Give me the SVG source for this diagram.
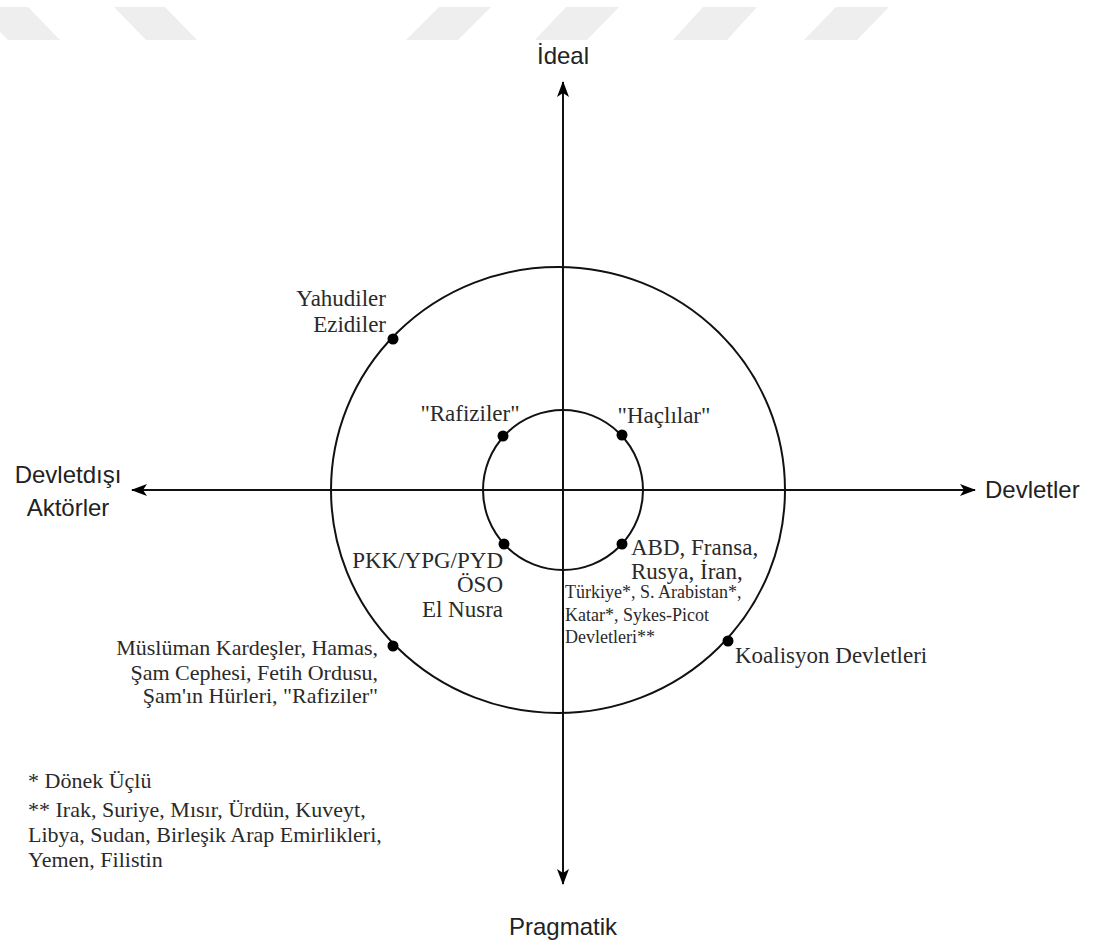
<svg xmlns="http://www.w3.org/2000/svg" width="1097" height="946" viewBox="0 0 1097 946">
<defs>
<style>
.wm{fill:#eeeeee}
.ax{stroke:#111;stroke-width:2;fill:none}
.ring{stroke:#111;stroke-width:2;fill:none}
.dot{fill:#000}
.sans{font-family:"Liberation Sans",Arial,sans-serif;font-size:24px;fill:#222}
.ser{font-family:"Liberation Serif","Times New Roman",serif;font-size:23px;fill:#2a2a2a}
.sm{font-size:18px}
.md{font-size:22px}
</style>
<marker id="ah" viewBox="0 0 16 12" refX="15" refY="6" markerWidth="16" markerHeight="12" markerUnits="userSpaceOnUse" orient="auto">
<path d="M0,0 L16,6 L0,12 L4,6 Z" fill="#000"/>
</marker>
</defs>
<rect width="1097" height="946" fill="#fff"/>
<g id="watermark">
<polygon class="wm" points="-24,7 28,7 60,40 8,40"/>
<polygon class="wm" points="114,7 165,7 197,40 146,40"/>
<polygon class="wm" points="439,7 491,7 458,40 406,40"/>
<polygon class="wm" points="566,7 619,7 587,40 535,40"/>
<polygon class="wm" points="703,7 757,7 727,40 673,40"/>
<polygon class="wm" points="836,7 889,7 857,40 804,40"/>
</g>
<g id="connectors">
<line class="ax" x1="563" y1="490" x2="563" y2="82" marker-end="url(#ah)"/>
<line class="ax" x1="563" y1="490" x2="563" y2="884" marker-end="url(#ah)"/>
<line class="ax" x1="563" y1="490" x2="132" y2="490" marker-end="url(#ah)"/>
<line class="ax" x1="563" y1="490" x2="975" y2="490" marker-end="url(#ah)"/>
</g>
<g id="outer-ring"><ellipse class="ring" cx="558" cy="490" rx="227" ry="223"/></g>
<g id="inner-ring"><circle class="ring" cx="563" cy="490" r="80"/></g>
<g id="axis-ideal"><text class="sans" x="563" y="64" text-anchor="middle">İdeal</text></g>
<g id="axis-pragmatik"><text class="sans" x="563" y="935" text-anchor="middle">Pragmatik</text></g>
<g id="axis-devletdisi"><text class="sans" x="68" y="483" text-anchor="middle">Devletdışı</text><text class="sans" x="68" y="516" text-anchor="middle">Aktörler</text></g>
<g id="axis-devletler"><text class="sans" x="985" y="498">Devletler</text></g>
<g id="yahudiler"><circle class="dot" cx="393" cy="339" r="5.5"/><text class="ser" x="386" y="306" text-anchor="end">Yahudiler</text><text class="ser" x="386" y="332" text-anchor="end">Ezidiler</text></g>
<g id="rafiziler"><circle class="dot" cx="503" cy="436" r="5.5"/><text class="ser" x="470" y="421" text-anchor="middle">"Rafiziler"</text></g>
<g id="haclilar"><circle class="dot" cx="622" cy="435" r="5.5"/><text class="ser" x="664" y="423" text-anchor="middle">"Haçlılar"</text></g>
<g id="abd"><circle class="dot" cx="622" cy="544" r="5.5"/><text class="ser" x="631" y="555">ABD, Fransa,</text><text class="ser" x="631" y="579">Rusya, İran,</text><text class="ser sm" x="565" y="598">Türkiye*, S. Arabistan*,</text><text class="ser sm" x="565" y="621">Katar*, Sykes-Picot</text><text class="ser sm" x="565" y="643">Devletleri**</text></g>
<g id="pkk"><circle class="dot" cx="504" cy="544" r="5.5"/><text class="ser" x="503" y="568" text-anchor="end">PKK/YPG/PYD</text><text class="ser" x="503" y="592" text-anchor="end">ÖSO</text><text class="ser" x="503" y="617" text-anchor="end">El Nusra</text></g>
<g id="musluman"><circle class="dot" cx="393" cy="646" r="5.5"/><text class="ser md" x="378" y="655" text-anchor="end">Müslüman Kardeşler, Hamas,</text><text class="ser md" x="378" y="680" text-anchor="end">Şam Cephesi, Fetih Ordusu,</text><text class="ser md" x="378" y="703" text-anchor="end">Şam'ın Hürleri, "Rafiziler"</text></g>
<g id="koalisyon"><circle class="dot" cx="728" cy="641" r="5.5"/><text class="ser" x="735" y="663">Koalisyon Devletleri</text></g>
<g id="footnotes"><text class="ser md" x="28" y="788">* Dönek Üçlü</text><text class="ser md" x="28" y="817">** Irak, Suriye, Mısır, Ürdün, Kuveyt,</text><text class="ser md" x="28" y="842">Libya, Sudan, Birleşik Arap Emirlikleri,</text><text class="ser md" x="28" y="867">Yemen, Filistin</text></g>
</svg>
